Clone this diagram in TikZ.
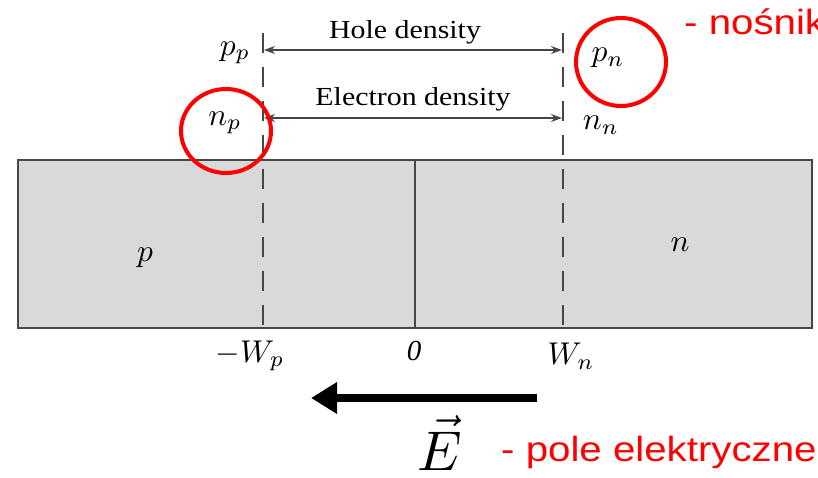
\documentclass[tikz,border=0pt]{standalone}
\usepackage{fontspec}
\usepackage{graphicx}
\setmainfont{Liberation Serif}
\newfontfamily\redsans{Liberation Sans}
\usetikzlibrary{arrows.meta,shapes.geometric}
\definecolor{boxgray}{RGB}{217,217,217}
\definecolor{edgegray}{RGB}{70,70,70}
\definecolor{redtxt}{RGB}{255,0,0}
\newcommand{\lblmath}[1]{\scalebox{3.15}{$#1$}}
\tikzset{
  lbl/.style={inner sep=0pt},
  captxt/.style={inner sep=0pt, font=\fontsize{26}{30}\selectfont},
  redlbl/.style={inner sep=0pt, anchor=west, text=redtxt, font=\redsans\fontsize{35}{40}\selectfont},
  dashln/.style={draw=edgegray, line width=1.1pt, dash pattern=on 20pt off 14pt},
  dens/.style={draw=edgegray, line width=1.1pt, {Stealth[length=11pt,width=8pt]}-{Stealth[length=11pt,width=8pt]}},
  ring/.style={draw=redtxt, line width=4pt}
}
\begin{document}
\begin{tikzpicture}[x=1pt,y=-1pt]
\useasboundingbox (0,0) rectangle (818,478);
% junction box
\node[draw=edgegray, fill=boxgray, line width=2.2pt, minimum width=794pt, minimum height=168pt, inner sep=0pt] (box) at (415,244) {};
\coordinate (ctop) at (415,160);
\coordinate (cbot) at (415,328);
\draw[edgegray, line width=2.2pt] (ctop) -- (cbot);
% dashed depletion edges
\coordinate (lt) at (263,33); \coordinate (lb) at (263,330);
\coordinate (rt) at (563,33); \coordinate (rb) at (563,330);
\draw[dashln] (lt) -- (lb);
\draw[dashln] (rt) -- (rb);
% density arrows
\coordinate (hl) at (264,50); \coordinate (hr) at (562,50);
\coordinate (el) at (264,118); \coordinate (er) at (562,118);
\draw[dens] (hl) -- (hr);
\draw[dens] (el) -- (er);
\node[captxt] (hole) at (405,32) {\scalebox{1.15}[1]{Hole density}};
\node[captxt] (elec) at (413,99) {\scalebox{1.15}[1]{Electron density}};
% carrier labels
\node[lbl] (pp) at (235,53) {\lblmath{p_p}};
\node[lbl] (np) at (225,123) {\lblmath{n_p}};
\node[lbl] (pn) at (608,58) {\lblmath{p_n}};
\node[lbl] (nn) at (601,125) {\lblmath{n_n}};
% region labels
\node[lbl] (pr) at (145,258) {\lblmath{p}};
\node[lbl] (nr) at (680,245) {\lblmath{n}};
% axis labels
\node[lbl] (wp) at (250,356) {\lblmath{-W_p}};
\node[lbl, font=\fontsize{29}{34}\selectfont] (zero) at (414,351) {\itshape 0};
\node[lbl] (wn) at (571,356) {\lblmath{W_n}};
% red circles
\node[ring, ellipse, minimum width=90pt, minimum height=84pt, inner sep=0pt] (c1) at (226,131) {};
\node[ring, ellipse, minimum width=90pt, minimum height=88pt, inner sep=0pt] (c2) at (621,62) {};
% field arrow
\coordinate (fa) at (537,398);
\coordinate (fb) at (311,398);
\draw[line width=8pt, -{Triangle[length=26pt,width=30pt]}] (fa) -- (fb);
\node[inner sep=0pt] (E) at (440,443) {\scalebox{5.6}{$\vec{E}$}};
% red annotations
\node[redlbl] (pole) at (501,452) {\scalebox{1.15}[1]{- pole elektryczne}};
\node[redlbl] (nosn) at (684,22) {\scalebox{1.15}[1]{- nośnik}};
\end{tikzpicture}
\end{document}
